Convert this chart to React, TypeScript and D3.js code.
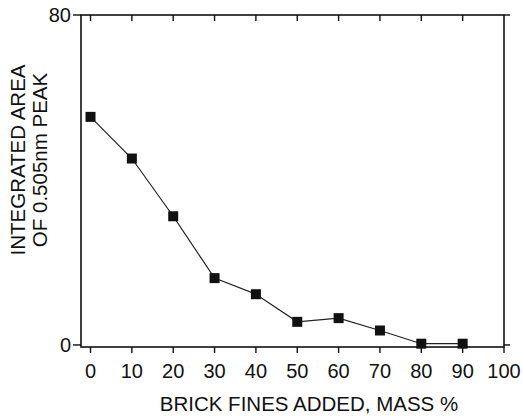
import React from 'react';
import * as d3 from 'd3';

// brick fines added (mass %) vs integrated area of the 0.505nm peak
const finesAdded = [0, 10, 20, 30, 40, 50, 60, 70, 80, 90];
const peakArea = [55.3, 45.2, 31.2, 16.2, 12.3, 5.6, 6.5, 3.5, 0.3, 0.3];
const xTicks = [0, 10, 20, 30, 40, 50, 60, 70, 80, 90, 100];
const yTicks = [0, 80];

export default function App() {
    const width = 523, height = 416
    const left = 81, right = 504, top = 15, bottom = 347

    const x = d3.scaleLinear().domain([-2.3, 100]).range([left, right])
    const y = d3.scaleLinear().domain([-0.5, 80]).range([bottom, top])

    const line = d3.line<number>()
        .x((d, i) => x(finesAdded[i]))
        .y(d => y(d))

    const font = 'Arial, "Liberation Sans", sans-serif'
    const sq = 10

    return (
        <svg width={width} height={height}
            style={{ position: 'absolute', left: 0, top: 0, background: '#fff' }}
            fontFamily={font}>
            {/* frame */}
            <rect x={left} y={top} width={right - left} height={bottom - top}
                fill="none" stroke="#111" strokeWidth={1.6} />

            {/* x ticks, bottom outward and top inward */}
            {xTicks.map(t => (
                <g key={'xt' + t}>
                    <line x1={x(t)} x2={x(t)} y1={bottom} y2={bottom + 6} stroke="#111" strokeWidth={1.4} />
                    {t < 100 && <line x1={x(t)} x2={x(t)} y1={top} y2={top + 6} stroke="#111" strokeWidth={1.4} />}
                    <text x={x(t)} y={378} fontSize={20} textAnchor="middle" fill="#111">{t}</text>
                </g>
            ))}

            {/* y ticks */}
            {yTicks.map(t => (
                <g key={'yt' + t}>
                    <line x1={left - 8} x2={left} y1={y(t)} y2={y(t)} stroke="#111" strokeWidth={1.4} />
                    <line x1={right} x2={right + 6} y1={y(t)} y2={y(t)} stroke="#111" strokeWidth={1.4} />
                    <text x={left - 10} y={y(t) + 7} fontSize={20} textAnchor="end" fill="#111">{t}</text>
                </g>
            ))}

            <path d={line(peakArea) || ''} fill="none" stroke="#222" strokeWidth={1.2} />
            {peakArea.map((v, i) => (
                <rect key={'p' + i} x={x(finesAdded[i]) - sq / 2} y={y(v) - sq / 2}
                    width={sq} height={sq} fill="#111" />
            ))}

            {/* axis titles */}
            <text x={309} y={411} fontSize={20.5} textAnchor="middle" fill="#111">
                BRICK FINES ADDED, MASS %
            </text>
            <g transform="translate(25,160) rotate(-90)">
                <text x={0} y={0} fontSize={20.5} textAnchor="middle" fill="#111">INTEGRATED AREA</text>
                <text x={0} y={22} fontSize={20.5} textAnchor="middle" fill="#111">OF 0.505nm PEAK</text>
            </g>
        </svg>
    )
}
